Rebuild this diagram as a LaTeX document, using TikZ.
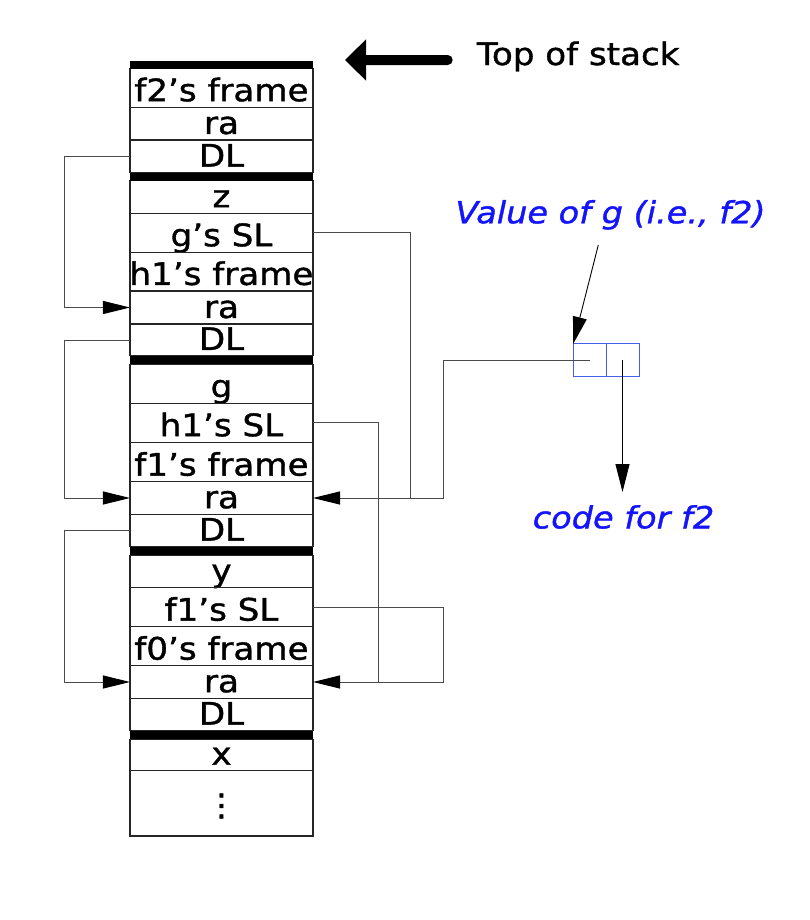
\documentclass[tikz,border=0pt]{standalone}
\usepackage{fontspec}
\setmainfont{DejaVu Sans}[FakeStretch=1.1,FakeBold=1.2,AutoFakeBold=0]
\usetikzlibrary{arrows.meta,calc}
\definecolor{ptrblue}{RGB}{20,20,250}
\definecolor{boxblue}{RGB}{70,95,235}
\tikzset{
  cell/.style={draw=black!85, line width=1.1bp, minimum width=183bp, inner sep=0pt, outer sep=0pt},
  stxt/.style={anchor=base, yshift=6bp, inner sep=0pt, font=\fontsize{31bp}{34bp}\selectfont},
  sep/.style={line width=8bp, black},
  conn/.style={draw=black!70, line width=1bp},
  arr/.style={conn, -{Triangle[length=27bp,width=13bp,color=black]}},
  bluetxt/.style={text=ptrblue, font=\fontsize{30.5bp}{34bp}\selectfont\itshape, inner sep=0pt},
  pcell/.style={draw=boxblue, line width=1bp, minimum width=33bp, minimum height=33bp, inner sep=0pt, outer sep=0pt},
}
\newcommand\strow[5]{% name, top, bottom, text
  \node[cell, minimum height={(#3)-(#2)}, label={[stxt]south:#4}] (#1) at (221.5,{((#2)+(#3))/2}) {};}
\begin{document}
\begin{tikzpicture}[x=1bp,y=-1bp]
\useasboundingbox (0,0) rectangle (810,920);
% stack rows
\strow{f2frame}{68.7}{107.3}{f2's frame}{}
\strow{raA}{107.3}{140}{ra}{}
\strow{dlA}{140}{172.7}{DL}{}
\strow{z}{180.7}{213.3}{z}{}
\strow{gSL}{213.3}{252.3}{g's SL}{}
\strow{h1frame}{252.3}{291}{h1's frame}{}
\strow{raB}{291}{324}{ra}{}
\strow{dlB}{324}{356}{DL}{}
\strow{g}{364.7}{403.3}{g}{}
\strow{h1SL}{403.3}{442.3}{h1's SL}{}
\strow{f1frame}{442.3}{481.7}{f1's frame}{}
\strow{raC}{481.7}{514.3}{ra}{}
\strow{dlC}{514.3}{546.7}{DL}{}
\strow{y}{555}{587.7}{y}{}
\strow{f1SL}{587.7}{626.7}{f1's SL}{}
\strow{f0frame}{626.7}{665.7}{f0's frame}{}
\strow{raD}{665.7}{698.3}{ra}{}
\strow{dlD}{698.3}{730.7}{DL}{}
\strow{x}{739}{770.7}{x}{}
\node[cell, minimum height=65.3bp] (dots) at (221.5,803.35) {};
\node[inner sep=0pt, font=\fontsize{31bp}{34bp}\selectfont] (dotsT) at (221.5,806) {⋮};
% frame separators
\draw[sep] (130,64.7) -- (313,64.7);
\draw[sep] (130,176.7) -- (313,176.7);
\draw[sep] (130,360.3) -- (313,360.3);
\draw[sep] (130,550.8) -- (313,550.8);
\draw[sep] (130,734.8) -- (313,734.8);
% top of stack
\node[anchor=base west, inner sep=0pt, font=\fontsize{31bp}{34bp}\selectfont] (tos) at (476.7,65) {Top of stack};
\coordinate (tosstart) at ([xshift=-29bp,yshift=5bp]tos.base west);
\coordinate (tostip) at (345,60);
\draw[line width=10bp, line cap=round, -{Triangle[length=21bp,width=40bp]}] (tosstart) -- (tostip);
% dynamic links (left)
\draw[arr] (dlA.west) -| ([xshift=-65bp]raB.west) -- (raB.west);
\draw[arr] (dlB.west) -| ([xshift=-65bp]raC.west) -- (raC.west);
\draw[arr] (dlC.west) -| ([xshift=-65bp]raD.west) -- (raD.west);
% closure value
\node[pcell] (pL) at (589.7,360.3) {};
\node[pcell] (pR) at (622.5,360.3) {};
\node[bluetxt, anchor=base] (valg) at (610.5,223.3) {Value of g (i.e., f2)};
\coordinate (valgptr) at (598.3,245);
\draw[black, line width=0.9bp, -{Triangle[length=27bp,width=14bp]}] (valgptr) -- (pL.north west);
\node[bluetxt, anchor=north] (code) at (623.5,505) {code for f2};
\coordinate (codetip) at ([yshift=13bp]code.north);
\draw[black, line width=1bp, -{Triangle[length=28bp,width=14bp]}] (pR.center) -- (pR.center |- codetip);
% static links (right)
\draw[conn] (gSL.east) -| ([xshift=97bp]raC.east);
\draw[arr] (pL.center) -| ([xshift=130bp]raC.east) -- (raC.east);
\draw[conn] (f1SL.east) -| ([xshift=130bp]raD.east) -- ([xshift=65bp]raD.east);
\draw[arr] (h1SL.east) -| ([xshift=65bp]raD.east) -- (raD.east);
\end{tikzpicture}
\end{document}
